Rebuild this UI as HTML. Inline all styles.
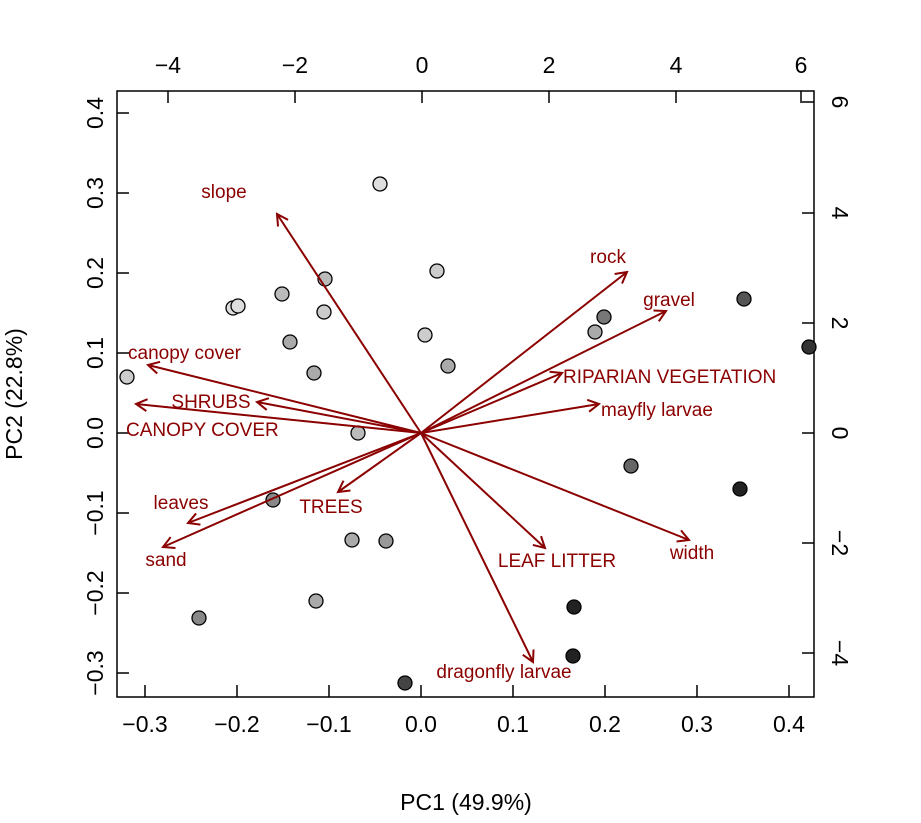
<!DOCTYPE html><html><head><style>body{margin:0;background:#fff}</style></head><body>
<svg width="921" height="818" xmlns="http://www.w3.org/2000/svg" font-family="Liberation Sans, sans-serif">
<defs><marker id="a" markerWidth="14" markerHeight="14" refX="12" refY="7" orient="auto" markerUnits="userSpaceOnUse"><path d="M1,1 L12,7 L1,13" fill="none" stroke="#8B0000" stroke-width="2"/></marker></defs>
<rect x="117" y="91" width="697" height="606" fill="none" stroke="#000" stroke-width="1.5"/>
<g stroke="#000" stroke-width="1.5">
<line x1="145" y1="697" x2="145" y2="685"/><line x1="237" y1="697" x2="237" y2="685"/><line x1="329" y1="697" x2="329" y2="685"/><line x1="421" y1="697" x2="421" y2="685"/><line x1="513" y1="697" x2="513" y2="685"/><line x1="605" y1="697" x2="605" y2="685"/><line x1="697" y1="697" x2="697" y2="685"/><line x1="789" y1="697" x2="789" y2="685"/>
<line x1="117" y1="113" x2="129" y2="113"/><line x1="117" y1="193" x2="129" y2="193"/><line x1="117" y1="273" x2="129" y2="273"/><line x1="117" y1="353" x2="129" y2="353"/><line x1="117" y1="433" x2="129" y2="433"/><line x1="117" y1="513" x2="129" y2="513"/><line x1="117" y1="593" x2="129" y2="593"/><line x1="117" y1="673" x2="129" y2="673"/>
<line x1="168" y1="91" x2="168" y2="103"/><line x1="295" y1="91" x2="295" y2="103"/><line x1="422" y1="91" x2="422" y2="103"/><line x1="549" y1="91" x2="549" y2="103"/><line x1="676" y1="91" x2="676" y2="103"/><line x1="801" y1="91" x2="801" y2="103"/>
<line x1="814" y1="102" x2="802" y2="102"/><line x1="814" y1="213" x2="802" y2="213"/><line x1="814" y1="323" x2="802" y2="323"/><line x1="814" y1="433" x2="802" y2="433"/><line x1="814" y1="543" x2="802" y2="543"/><line x1="814" y1="653" x2="802" y2="653"/>
</g>
<g font-size="23" text-anchor="middle" fill="#000">
<text x="145" y="732">−0.3</text><text x="237" y="732">−0.2</text><text x="329" y="732">−0.1</text><text x="421" y="732">0.0</text><text x="513" y="732">0.1</text><text x="605" y="732">0.2</text><text x="697" y="732">0.3</text><text x="789" y="732">0.4</text>
<text x="168" y="73">−4</text><text x="295" y="73">−2</text><text x="422" y="73">0</text><text x="549" y="73">2</text><text x="676" y="73">4</text><text x="801" y="73">6</text>
<g transform="translate(103,0)"><text transform="translate(0,113) rotate(-90)">0.4</text><text transform="translate(0,193) rotate(-90)">0.3</text><text transform="translate(0,273) rotate(-90)">0.2</text><text transform="translate(0,353) rotate(-90)">0.1</text><text transform="translate(0,433) rotate(-90)">0.0</text><text transform="translate(0,513) rotate(-90)">−0.1</text><text transform="translate(0,593) rotate(-90)">−0.2</text><text transform="translate(0,673) rotate(-90)">−0.3</text></g>
<g transform="translate(832,0)"><text transform="translate(0,102) rotate(90)">6</text><text transform="translate(0,213) rotate(90)">4</text><text transform="translate(0,323) rotate(90)">2</text><text transform="translate(0,433) rotate(90)">0</text><text transform="translate(0,543) rotate(90)">−2</text><text transform="translate(0,653) rotate(90)">−4</text></g>
<text x="466" y="810">PC1 (49.9%)</text>
<text transform="translate(22,394) rotate(-90)">PC2 (22.8%)</text>
</g>
<g stroke="#000" stroke-width="1.3">
<circle cx="380" cy="184" r="7" fill="#ddd"/><circle cx="437" cy="271" r="7" fill="#ccc"/><circle cx="325" cy="279" r="7" fill="#bbb"/><circle cx="282" cy="294" r="7" fill="#bbb"/><circle cx="233" cy="308" r="7" fill="#ddd"/><circle cx="238" cy="306" r="7" fill="#ddd"/><circle cx="324" cy="312" r="7" fill="#ccc"/><circle cx="604" cy="317" r="7" fill="#777"/><circle cx="595" cy="332" r="7" fill="#aaa"/><circle cx="744" cy="299" r="7" fill="#555"/><circle cx="809" cy="347" r="7" fill="#333"/><circle cx="425" cy="335" r="7" fill="#ccc"/><circle cx="290" cy="342" r="7" fill="#aaa"/><circle cx="448" cy="366" r="7" fill="#aaa"/><circle cx="314" cy="373" r="7" fill="#aaa"/><circle cx="127" cy="377" r="7" fill="#ccc"/><circle cx="358" cy="433" r="7" fill="#bbb"/><circle cx="631" cy="466" r="7" fill="#666"/><circle cx="740" cy="489" r="7" fill="#222"/><circle cx="273" cy="500" r="7" fill="#888"/><circle cx="352" cy="540" r="7" fill="#aaa"/><circle cx="386" cy="541" r="7" fill="#999"/><circle cx="316" cy="601" r="7" fill="#aaa"/><circle cx="199" cy="618" r="7" fill="#888"/><circle cx="574" cy="607" r="7" fill="#222"/><circle cx="573" cy="656" r="7" fill="#222"/><circle cx="405" cy="683" r="7" fill="#444"/>
</g>
<g stroke="#8B0000" stroke-width="2" marker-end="url(#a)">
<line x1="421" y1="433" x2="277" y2="214"/><line x1="421" y1="433" x2="627" y2="272"/><line x1="421" y1="433" x2="666" y2="311"/><line x1="421" y1="433" x2="562" y2="373"/><line x1="421" y1="433" x2="599" y2="404"/><line x1="421" y1="433" x2="689" y2="540"/><line x1="421" y1="433" x2="545" y2="548"/><line x1="421" y1="433" x2="533" y2="662"/><line x1="421" y1="433" x2="338" y2="492"/><line x1="421" y1="433" x2="163" y2="547"/><line x1="421" y1="433" x2="188" y2="523"/><line x1="421" y1="433" x2="257" y2="402"/><line x1="421" y1="433" x2="148" y2="365"/><line x1="421" y1="433" x2="136" y2="404"/>
</g>
<g fill="#8B0000" font-size="19" text-anchor="middle">
<text x="224" y="198">slope</text><text x="608" y="263">rock</text><text x="669" y="306">gravel</text><text x="692" y="559">width</text><text x="557" y="567">LEAF LITTER</text><text x="504" y="678">dragonfly larvae</text><text x="331" y="513">TREES</text><text x="166" y="566">sand</text><text x="181" y="509">leaves</text><text x="211" y="408">SHRUBS</text>
<g text-anchor="start"><text x="563" y="383">RIPARIAN VEGETATION</text><text x="601" y="416">mayfly larvae</text><text x="128" y="359">canopy cover</text><text x="126" y="436">CANOPY COVER</text></g>
</g>
</svg></body></html>
